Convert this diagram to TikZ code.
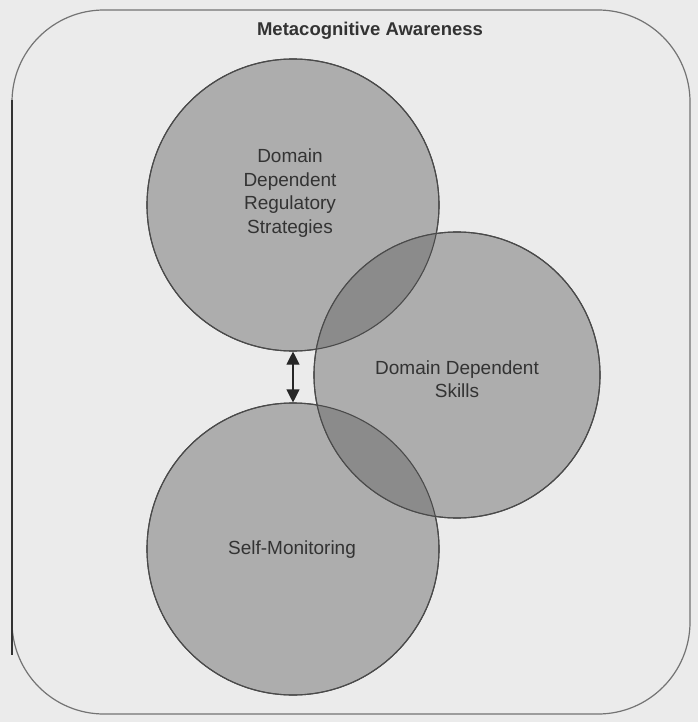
\documentclass[tikz,border=0pt]{standalone}
\usepackage{fontspec}
\setmainfont{Liberation Sans}
\usetikzlibrary{arrows.meta}
\definecolor{pagebg}{HTML}{EBEBEB}
\definecolor{discfill}{HTML}{ADADAD}
\definecolor{lensfill}{HTML}{8B8B8B}
\definecolor{edge}{HTML}{4A4A4A}
\tikzset{
  disc/.style={circle, draw=edge, line width=1.1pt, fill=discfill, inner sep=0pt},
  label/.style={align=center, font=\fontsize{19}{23.5}\selectfont, text=black!80},
  frame/.style={draw=black!55, line width=1.2pt, rounded corners=92pt},
  biarrow/.style={{Triangle[length=13pt,width=13pt]}-{Triangle[length=13pt,width=13pt]}, line width=1.1pt, draw=black!85}
}
\begin{document}
\begin{tikzpicture}[x=1pt,y=-1pt]
  % page and outer frame
  \fill[pagebg] (0,0) rectangle (698,722);
  \useasboundingbox (0,0) rectangle (698,722);
  \draw[frame] (12,10) rectangle (690,714);
  \draw[black!80, line width=1.6pt] (12,100) -- (12,655);

  \node[font=\bfseries\fontsize{18.5}{22}\selectfont, text=black!80] (title) at (370,31) {Metacognitive Awareness};

  % the three discs
  \def\rr{146}
  \node[disc, minimum size=2*\rr] (reg) at (293,205) {};
  \node[disc, minimum size=2*\rr] (mon) at (293,549) {};
  \node[disc, minimum size=2*143] (skl) at (457,375) {};

  % darker lenses where the discs overlap
  \begin{scope}
    \clip (457,375) circle (143);
    \fill[lensfill] (293,205) circle (\rr);
    \fill[lensfill] (293,549) circle (\rr);
  \end{scope}
  \draw[edge, line width=1.1pt] (293,205) circle (\rr);
  \draw[edge, line width=1.1pt] (293,549) circle (\rr);
  \draw[edge, line width=1.1pt] (457,375) circle (143);

  % labels
  \node[label] (regtxt) at (290,193) {Domain\\Dependent\\Regulatory\\Strategies};
  \node[label] (skltxt) at (457,379) {Domain Dependent\\Skills};
  \node[label] (montxt) at (292,550) {Self-Monitoring};

  % link between the regulatory and monitoring discs
  \draw[biarrow] (reg.south) -- (mon.north);
\end{tikzpicture}
\end{document}
